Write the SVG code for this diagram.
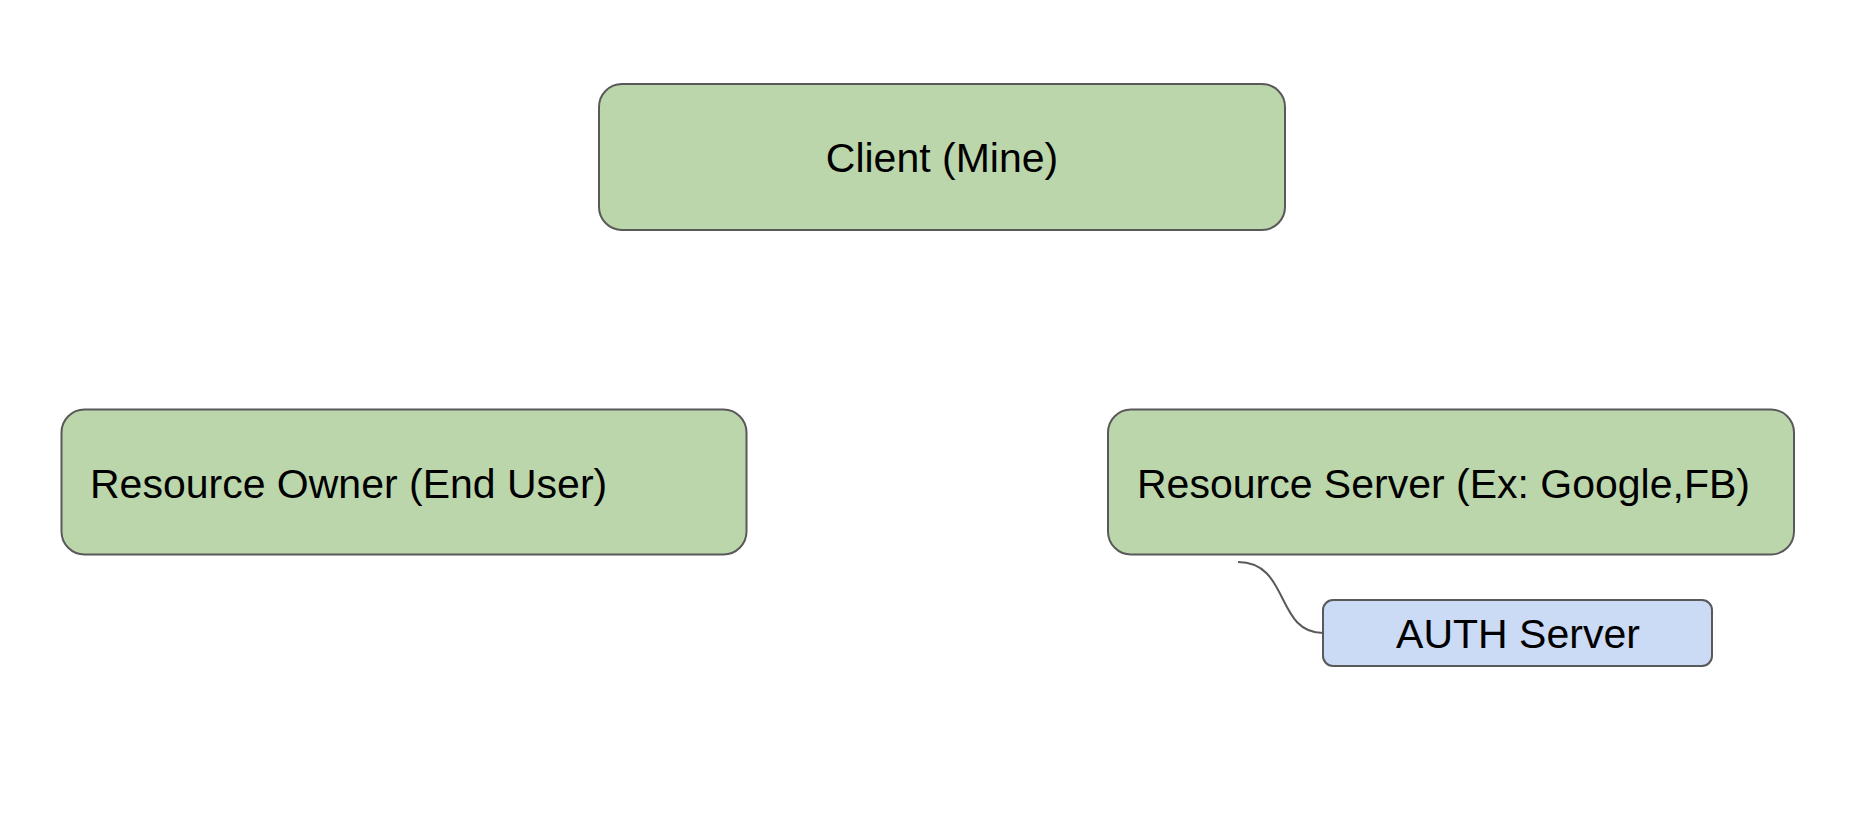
<svg xmlns="http://www.w3.org/2000/svg" width="1856" height="826" viewBox="0 0 1856 826">
<style>
.box{stroke:#595959;stroke-width:2}
.green{fill:#bcd6ac}
.blue{fill:#cbdaf5}
.lbl{font-family:"Liberation Sans",Arial,sans-serif;font-size:41px;fill:#000}
.conn{fill:none;stroke:#595959;stroke-width:2}
</style>
<rect width="1856" height="826" fill="#ffffff"/>
<g id="client">
<rect class="box green" x="599" y="84" width="686" height="146" rx="23"/>
<text class="lbl" x="942" y="172" text-anchor="middle">Client (Mine)</text>
</g>
<g id="resource-owner">
<rect class="box green" x="61.5" y="409.5" width="685" height="145" rx="23"/>
<text class="lbl" x="90" y="498">Resource Owner (End User)</text>
</g>
<g id="resource-server">
<rect class="box green" x="1108" y="409.5" width="686" height="145" rx="23"/>
<text class="lbl" x="1137" y="498">Resource Server (Ex: Google,FB)</text>
</g>
<g id="auth-server">
<rect class="box blue" x="1323" y="600" width="389" height="66" rx="10"/>
<text class="lbl" x="1518" y="648" text-anchor="middle">AUTH Server</text>
</g>
<g id="connectors">
<path class="conn" d="M1238,562 C1290,562 1275,633 1323,633"/>
</g>
</svg>
